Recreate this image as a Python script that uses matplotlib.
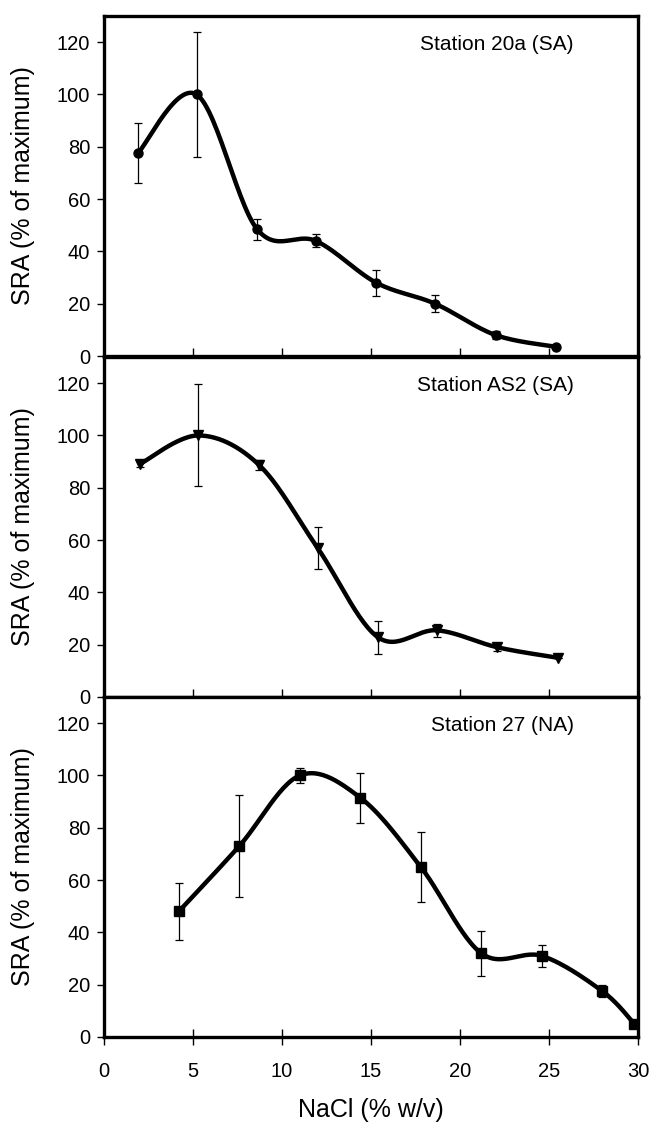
import numpy as np
import matplotlib
matplotlib.use("Agg")
from matplotlib import pyplot as plt

plt.rcParams['font.family'] = ['Liberation Sans', 'DejaVu Sans']

# station 20a (SA)
x_20a = [1.9, 5.2, 8.6, 11.9, 15.3, 18.6, 22.0, 25.4]
y_20a = [77.5, 100, 48.5, 44, 28, 20, 8, 3.5]
e_20a = [11.5, 24, 4, 2.5, 5, 3.3, 1.5, 0]

# station AS2 (SA)
x_as2 = [2.0, 5.3, 8.7, 12.0, 15.4, 18.7, 22.1, 25.5]
y_as2 = [89, 100, 88.8, 57, 22.8, 25.5, 19, 15]
e_as2 = [1, 19.5, 2, 8, 6.4, 2.5, 1.5, 0]

# station 27 (NA)
x_27 = [4.2, 7.6, 11.0, 14.4, 17.8, 21.2, 24.6, 28.0, 29.8]
y_27 = [48, 73, 100, 91.5, 65, 32, 31, 17.5, 5]
e_27 = [11, 19.5, 3, 9.5, 13.5, 8.7, 4.2, 2.2, 1]

titles = ["Station 20a (SA)", "Station AS2 (SA)", "Station 27 (NA)"]
markers = ['o', 'v', 's']
yticks = [0, 20, 40, 60, 80, 100, 120]
xticks = [0, 5, 10, 15, 20, 25, 30]


def smooth(xs, ys, n=30):
    # excel style smoothed line (catmull-rom bezier)
    xs = np.asarray(xs, float)
    ys = np.asarray(ys, float)
    px = np.concatenate([[xs[0]], xs, [xs[-1]]])
    py = np.concatenate([[ys[0]], ys, [ys[-1]]])
    t = np.linspace(0, 1, n)
    outx, outy = [], []
    for i in range(1, len(px) - 2):
        p0x, p1x, p2x, p3x = px[i - 1], px[i], px[i + 1], px[i + 2]
        p0y, p1y, p2y, p3y = py[i - 1], py[i], py[i + 1], py[i + 2]
        c1x = p1x + (p2x - p0x) / 6
        c1y = p1y + (p2y - p0y) / 6
        c2x = p2x - (p3x - p1x) / 6
        c2y = p2y - (p3y - p1y) / 6
        bx = (1-t)**3*p1x + 3*(1-t)**2*t*c1x + 3*(1-t)*t**2*c2x + t**3*p2x
        by = (1-t)**3*p1y + 3*(1-t)**2*t*c1y + 3*(1-t)*t**2*c2y + t**3*p2y
        outx.extend(bx)
        outy.extend(by)
    return np.array(outx), np.array(outy)


fig = plt.figure(figsize=(6.52, 11.23), dpi=100)
L, W, H = 104 / 652, 534 / 652, 340 / 1123
bottoms = [1 - 356 / 1123, 1 - 697 / 1123, 1 - 1037 / 1123]

data = [(x_20a, y_20a, e_20a), (x_as2, y_as2, e_as2), (x_27, y_27, e_27)]
for k, (xs, ys, es) in enumerate(data):
    ax = fig.add_axes([L, bottoms[k], W, H])
    sx, sy = smooth(xs, ys)
    ax.plot(sx, sy, color='black', lw=3.2, solid_capstyle='round', zorder=3)
    ax.errorbar(xs, ys, yerr=es, fmt=markers[k], color='black', ms=6.5,
                ecolor='black', elinewidth=0.9, capsize=3, capthick=0.9, zorder=4)
    ax.set_xlim(0, 30)
    ax.set_ylim(0, 130)
    ax.set_yticks(yticks)
    ax.set_xticks(xticks)
    for s in ax.spines.values():
        s.set_linewidth(2.4)
    ax.tick_params(axis='y', direction='out', length=5, width=1, labelsize=14.5, pad=5)
    if k < 2:
        ax.tick_params(axis='x', direction='in', length=6, width=1, labelbottom=False)
    else:
        ax.tick_params(axis='x', direction='inout', length=12, width=1, labelsize=14.5, pad=12)
        ax.set_xlabel("NaCl (% w/v)", fontsize=18)
        ax.xaxis.set_label_coords(0.5, -0.18)
    ax.set_ylabel("SRA (% of maximum)", fontsize=18)
    ax.yaxis.set_label_coords(-0.13, 0.5)
    ax.text(0.88, 0.915, titles[k], transform=ax.transAxes, ha='right', va='center',
            fontsize=15)

fig.savefig("out.png", dpi=100)
